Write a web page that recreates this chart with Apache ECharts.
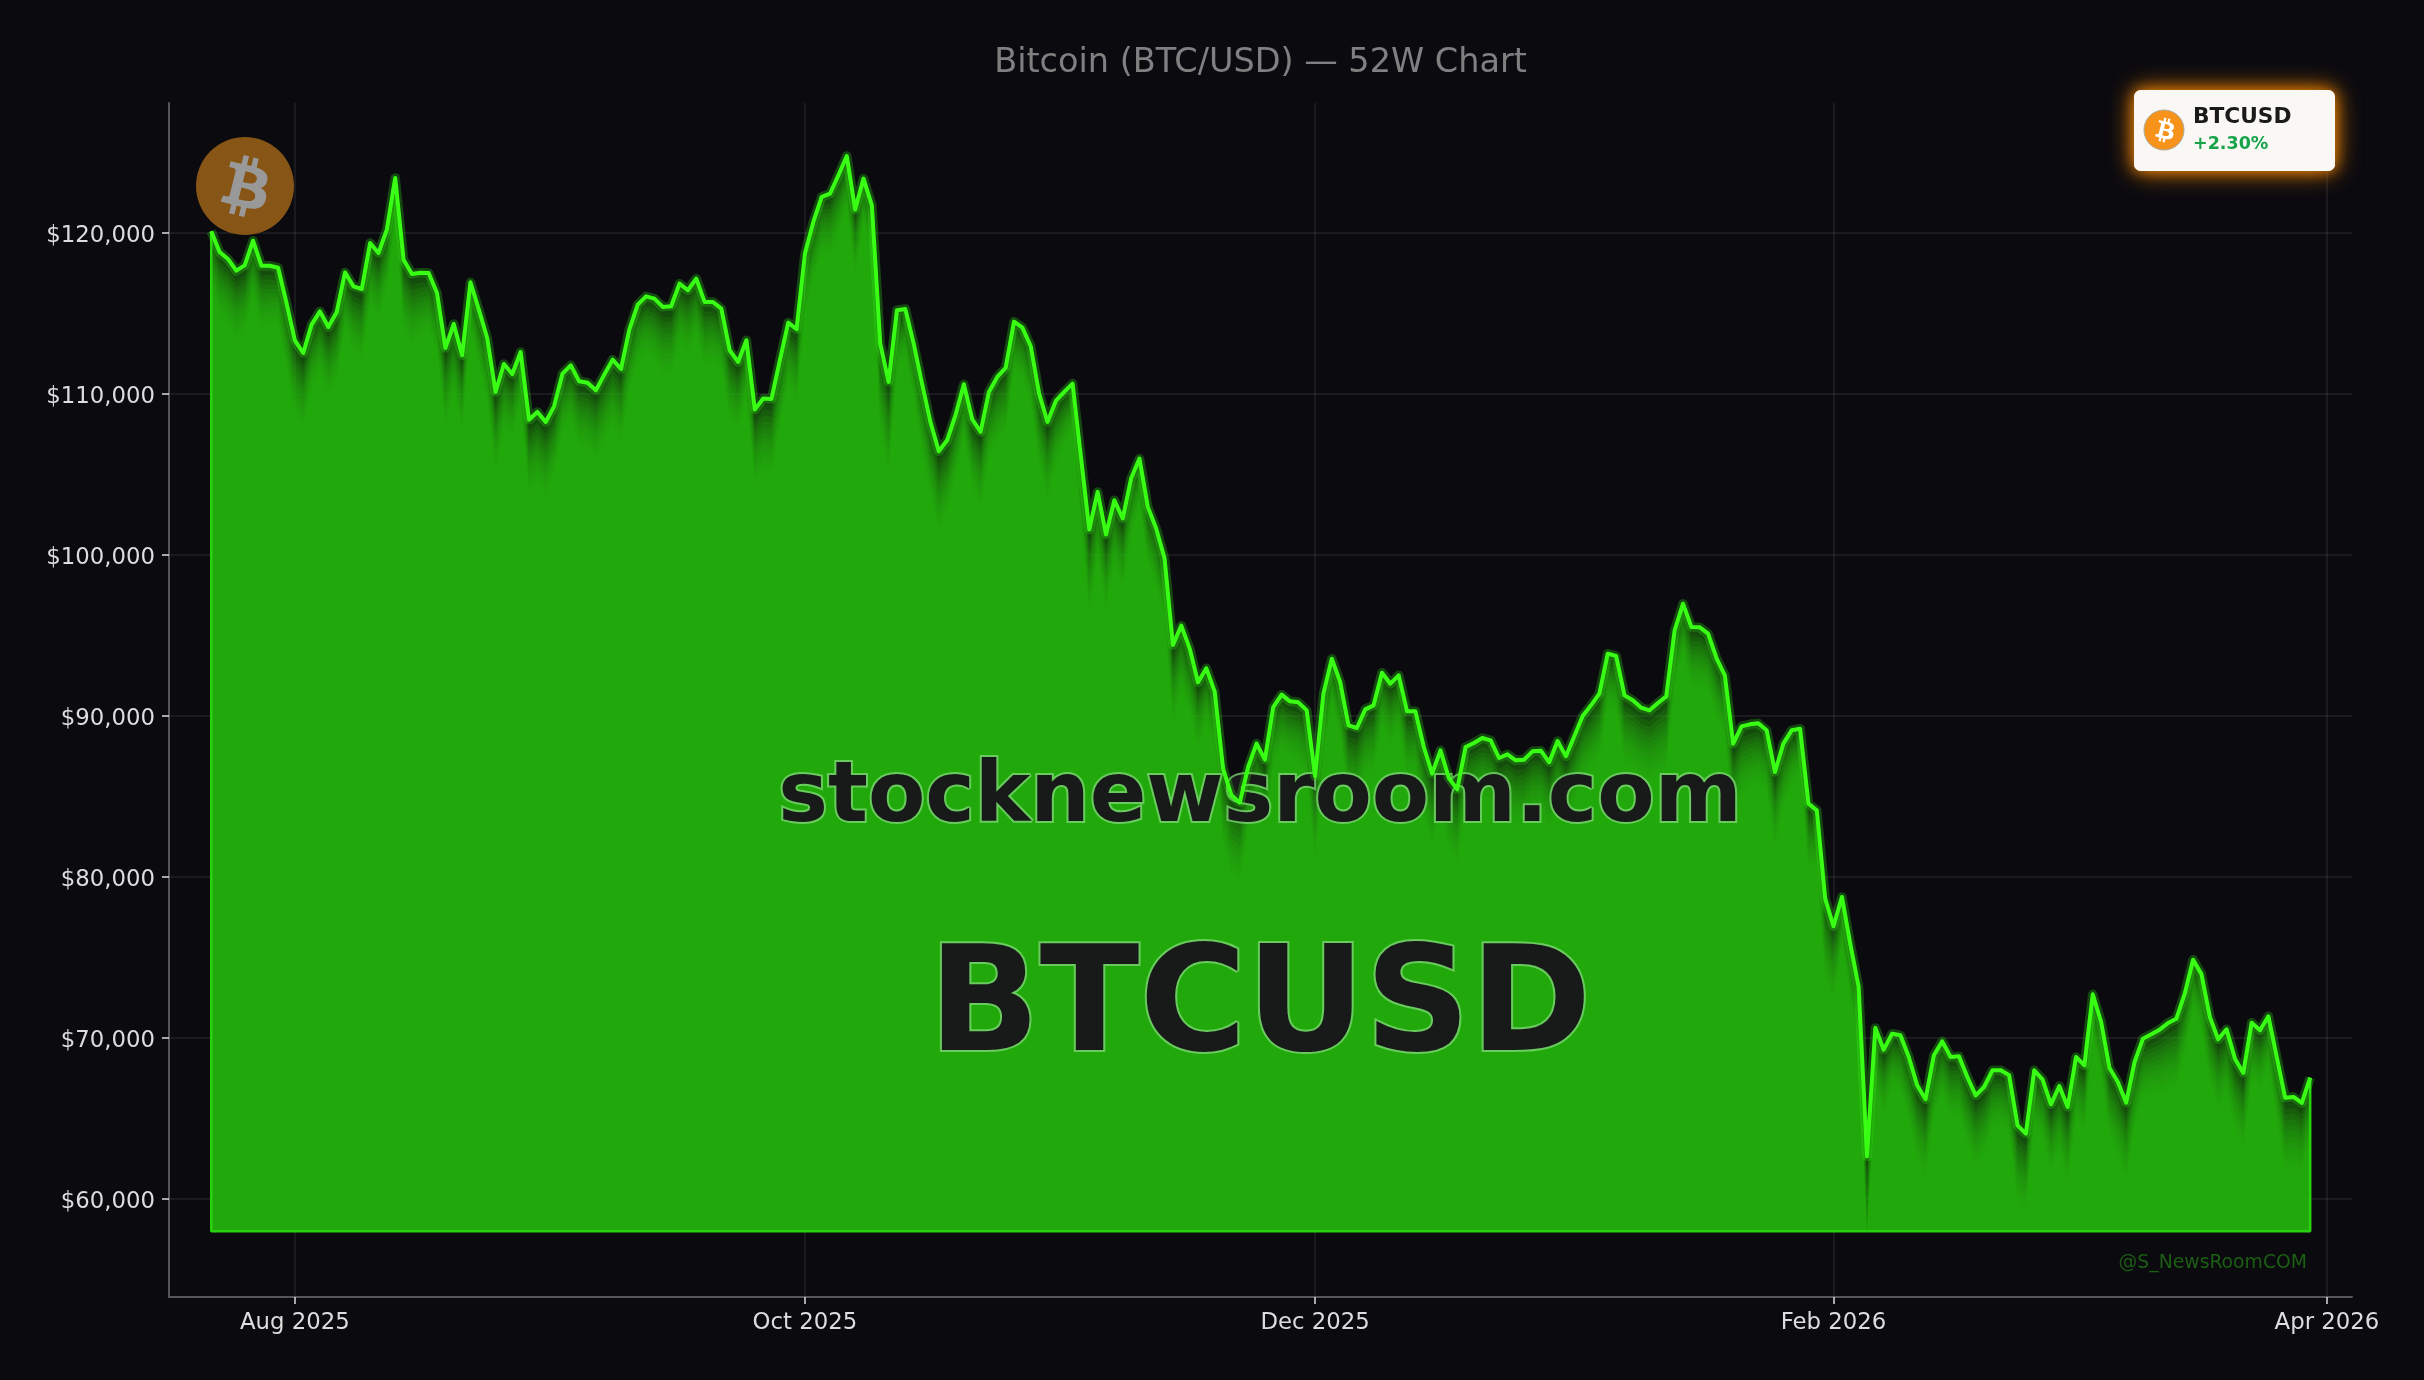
<!DOCTYPE html>
<html><head><meta charset="utf-8">
<style>html,body{margin:0;padding:0;background:#0a0a0f}#c{width:2424px;height:1380px}</style>
<script src="https://cdn.jsdelivr.net/npm/echarts@6/dist/echarts.min.js"></script>
</head><body><div id="c"></div>
<script>
const titleText = 'Bitcoin (BTC/USD) — 52W Chart';
const startDay = Date.UTC(2025, 6, 22);
const dayMs = 86400000;
const closes = [
120102,118819,118384,117660,117991,119523,117970,117970,117846,115652,113334,112547,114307,115135,114162,115072,117556,116687,116521,119378,118757,120206,123415,118343,117453,117536,117515,116273,112858,114348,112402,116935,115238,113479,110125,111864,111243,112609,108407,108883,108262,109235,111264,111781,110788,110705,110229,111202,112133,111553,114004,115552,116066,
115926,115408,115449,116857,116443,117168,115718,115718,115305,112717,111993,113338,109032,109716,109695,112096,114435,114021,118720,120687,122239,122446,123585,124785,121452,123378,121722,113131,110751,115201,115284,113131,110647,108267,106445,107128,108681,110606,108432,107645,110130,111061,111620,114497,114125,112965,110026,108267,109571,110130,110647,106093,101580,103920,101270,103402,102265,104748,105990,102988,101645,99793,
94412,95612,94204,92093,92962,91513,86730,85074,84618,86833,88282,87288,90559,91325,90911,90849,90352,86253,91387,93560,92111,89421,89255,90414,90663,92691,92008,92526,90290,90290,88075,86419,87868,86150,85446,88075,88323,88634,88489,87392,87620,87247,87288,87806,87847,87123,88448,87495,88737,90000,90663,91387,93871,93726,91283,90973,90518,90352,90807,91221,95320,96976,95527,95506,95113,93602,92526,88282,89358,89483,89545,89110,86522,88282,89110,89213,84556,84142,78656,76938,78760,75862,73171,62651,
70621,69275,70269,70166,68820,67061,66191,68924,69793,68820,68861,67578,66439,66957,67992,67992,67681,64577,64059,67992,67412,65881,67019,65715,68820,68303,72712,70994,68137,67268,65984,68510,69958,70228,70517,70931,71200,72753,74864,73954,71304,69917,70538,68717,67826,70952,70476,71345,68820,66295,66336,65963,67536];
const days = closes.map((_, i) => startDay + i * dayMs);
const fillBase = 58000;
const yTicks = [60000,70000,80000,90000,100000,110000,120000];
const xTickDates = [Date.UTC(2025,7,1),Date.UTC(2025,9,1),Date.UTC(2025,11,1),Date.UTC(2026,1,1),Date.UTC(2026,3,1)];
const xTickLabels = ['Aug 2025','Oct 2025','Dec 2025','Feb 2026','Apr 2026'];
const FONT = '"DejaVu Sans"';
const BTC_PATH = 'M17.288 10.291c.24-1.59-.974-2.45-2.64-3.03l.54-2.153-1.315-.33-.525 2.107c-.345-.087-.705-.167-1.064-.25l.526-2.127-1.32-.33-.54 2.165c-.285-.067-.565-.132-.84-.2l-1.815-.45-.35 1.407s.975.225.955.236c.535.136.63.486.615.766l-1.477 5.92c-.075.166-.24.406-.614.314.015.02-.96-.24-.96-.24l-.66 1.51 1.71.426.93.242-.54 2.19 1.32.327.54-2.17c.36.1.705.19 1.05.273l-.51 2.154 1.32.33.545-2.19c2.24.427 3.93.257 4.64-1.774.57-1.637-.03-2.58-1.217-3.196.854-.193 1.5-.76 1.68-1.93h.01zm-3.01 4.22c-.404 1.64-3.157.75-4.05.53l.72-2.9c.896.23 3.757.67 3.33 2.37zm.41-4.24c-.37 1.49-2.662.735-3.405.55l.654-2.64c.744.18 3.137.52 2.75 2.084v.006z';

// Shading under the curve: translucent copies of the curve, stepped downward
const LAYERS = 14, DEPTH = 4000, SHAPE = 0.35, LAYER_ALPHA = 0.155, FIRST_ALPHA = 0.27;
const localMean = closes.map((_, i) => {
  let s = 0, n = 0;
  for (let j = Math.max(0, i - 3); j <= Math.min(closes.length - 1, i + 3); j++) { s += closes[j]; n++; }
  return s / n;
});
const layerSeries = [];
for (let k = 0; k < LAYERS; k++) {
  const t = k / (LAYERS - 1);
  layerSeries.push({
    type: 'line', silent: true, showSymbol: false, animation: false, z: 2,
    lineStyle: { width: 0, opacity: 0 },
    areaStyle: { color: 'rgb(40,186,14)', opacity: k === 0 ? FIRST_ALPHA : LAYER_ALPHA, origin: fillBase },
    data: closes.map((v, i) => {
      const d = Math.max(DEPTH * 0.5, DEPTH + SHAPE * (localMean[i] - v));
      return [days[i], Math.max(fillBase, v - t * d)];
    })
  });
}
const last = closes.length - 1;
const curve = closes.map((v, i) => [days[i], v]);
const wm = (text, y, size) => ({ type: 'text', style: { text, x: 1260, y, align: 'center', verticalAlign: 'middle',
  font: 'bold ' + size + 'px ' + FONT, fill: '#171a18', stroke: 'rgba(130,215,120,0.75)', lineWidth: 4, strokeFirst: true,
  shadowColor: 'rgba(60,255,30,0.7)', shadowBlur: 8, shadowOffsetY: 4 } });

const option = {
  backgroundColor: '#0a0a0f',
  animation: false,
  title: { text: titleText, left: 1255.5, top: 41, textAlign: 'center',
    textStyle: { color: '#808080', fontFamily: FONT, fontWeight: 'normal', fontSize: 33.5 } },
  grid: { left: 169, right: 72, top: 103, bottom: 83 },
  xAxis: {
    type: 'value', min: startDay - 5.05 * dayMs, max: startDay + 256 * dayMs,
    axisLine: { show: true, lineStyle: { color: '#55555a', width: 2 } },
    axisTick: { show: true, length: 7, lineStyle: { color: '#dddddd', width: 1.5 }, customValues: xTickDates },
    axisLabel: { show: true, customValues: xTickDates, margin: 15, color: '#dddddd', fontFamily: FONT, fontSize: 22.8,
      hideOverlap: false,
      formatter: v => xTickLabels[xTickDates.indexOf(+v)] || '' },
    splitLine: { show: true, lineStyle: { color: 'rgba(255,255,255,0.09)', width: 1.5 } }
  },
  yAxis: {
    type: 'value', min: 53913, max: 128075,
    axisLine: { show: true, lineStyle: { color: '#55555a', width: 2 } },
    axisTick: { show: true, length: 7, lineStyle: { color: '#dddddd', width: 1.5 }, customValues: yTicks },
    axisLabel: { show: true, customValues: yTicks, margin: 14, color: '#dddddd', fontFamily: FONT, fontSize: 22.8,
      formatter: v => '{v|$' + Number(v).toLocaleString('en-US') + '}',
      rich: { v: { color: '#dddddd', fontFamily: FONT, fontSize: 22.8, padding: [6, 0, 0, 0] } } },
    splitLine: { show: true, lineStyle: { color: 'rgba(255,255,255,0.09)', width: 1.5 } }
  },
  series: [
    ...layerSeries,
    { type: 'custom', coordinateSystem: 'none', silent: true, z: 5, data: [0], animation: false,
      renderItem: () => ({ type: 'group', children: [ wm('stocknewsroom.com', 799, 83.5), wm('BTCUSD', 1012, 146) ] })
    },
    { type: 'line', silent: true, showSymbol: false, animation: false, z: 6,
      lineStyle: { color: 'rgb(40,210,14)', width: 2.5 },
      data: [[days[0], closes[0]], [days[0], fillBase], [days[last], fillBase], [days[last], closes[last]]] },
    { type: 'line', silent: true, showSymbol: false, animation: false, z: 8,
      lineStyle: { color: 'rgba(57,255,20,0.25)', width: 9.5, join: 'round' }, data: curve },
    { name: 'BTC/USD', type: 'line', silent: true, showSymbol: false, animation: false, z: 9,
      lineStyle: { color: '#39ff14', width: 4, join: 'round' }, data: curve },
    { type: 'custom', coordinateSystem: 'none', silent: true, z: 30, data: [0], animation: false,
      renderItem: () => ({ type: 'group', children: [
        { type: 'circle', shape: { cx: 245, cy: 186, r: 49 }, style: { fill: '#875516' } },
        { type: 'path', shape: { pathData: BTC_PATH, layout: 'cover', x: 244 - 23.5, y: 186 - 31, width: 47, height: 62 }, style: { fill: '#999999' } },
        { type: 'rect', shape: { x: 2134, y: 90, width: 201, height: 81, r: 7 },
          style: { fill: '#f9f8f4', shadowColor: 'rgba(255,140,0,0.9)', shadowBlur: 26 } },
        { type: 'rect', shape: { x: 2134, y: 90, width: 201, height: 81, r: 7 },
          style: { fill: '#f9f8f4', shadowColor: 'rgba(255,140,0,0.7)', shadowBlur: 14 } },
        { type: 'circle', shape: { cx: 2164, cy: 130, r: 20 }, style: { fill: '#f7931a', stroke: '#b0a898', lineWidth: 1 } },
        { type: 'path', shape: { pathData: BTC_PATH, layout: 'cover', x: 2164.5 - 9.5, y: 130 - 12.5, width: 19, height: 25 }, style: { fill: '#ffffff' } },
        { type: 'text', style: { text: 'BTCUSD', x: 2193, y: 117, verticalAlign: 'middle', font: 'bold 21.7px ' + FONT, fill: '#1a1a1a' } },
        { type: 'text', style: { text: '+2.30%', x: 2193, y: 144.5, verticalAlign: 'middle', font: 'bold 17.5px ' + FONT, fill: '#16a34a' } },
        { type: 'text', style: { text: '@S_NewsRoomCOM', x: 2307, y: 1263.5, align: 'right', verticalAlign: 'middle', font: '18.8px ' + FONT, fill: '#1c5e14' } }
      ] })
    }
  ]
};
echarts.init(document.getElementById('c')).setOption(option);
</script></body></html>
